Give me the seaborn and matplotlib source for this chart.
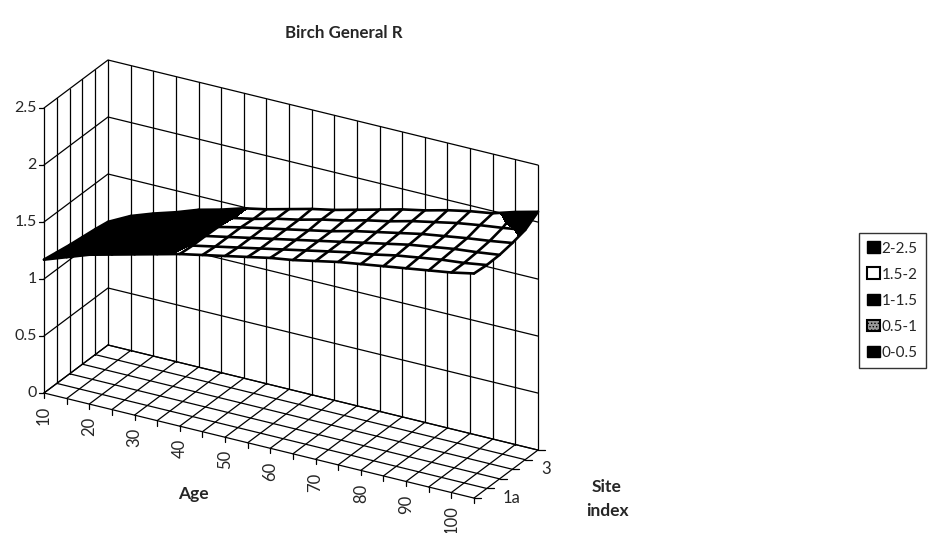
import numpy as np
import pandas as pd
import seaborn as sns
from matplotlib import pyplot as plt
from matplotlib.patches import Patch

ages = list(range(10, 110, 5))
age_labels = ['10', '', '20', '', '30', '', '40', '', '50', '', '60', '', '70', '', '80', '', '90', '', '100', '']
site_labels = ['1a', '', '', '3', '', '']
z_ticks = [0, 0.5, 1, 1.5, 2, 2.5]
z_labels = ['0', '0.5', '1', '1.5', '2', '2.5']

# one row per site index, one value per age
r_site0 = [1.17, 1.24, 1.31, 1.36, 1.41, 1.46, 1.51, 1.55, 1.59, 1.63, 1.67, 1.70, 1.74, 1.78, 1.81, 1.84, 1.87, 1.90, 1.93, 1.97]
r_site1 = [1.15, 1.22, 1.29, 1.35, 1.40, 1.45, 1.50, 1.54, 1.58, 1.62, 1.66, 1.70, 1.74, 1.78, 1.81, 1.85, 1.88, 1.91, 1.93, 1.96]
r_site2 = [1.13, 1.21, 1.28, 1.34, 1.39, 1.44, 1.50, 1.54, 1.58, 1.62, 1.66, 1.70, 1.74, 1.78, 1.82, 1.86, 1.89, 1.92, 1.94, 1.965]
r_site3 = [1.115, 1.20, 1.27, 1.33, 1.39, 1.44, 1.495, 1.54, 1.58, 1.62, 1.66, 1.70, 1.75, 1.79, 1.83, 1.87, 1.90, 1.93, 1.955, 1.985]
r_site4 = [1.10, 1.19, 1.26, 1.32, 1.38, 1.435, 1.49, 1.53, 1.58, 1.62, 1.67, 1.71, 1.76, 1.80, 1.85, 1.89, 1.93, 1.96, 1.985, 2.015]
r_site5 = [1.08, 1.18, 1.25, 1.31, 1.38, 1.43, 1.49, 1.53, 1.58, 1.63, 1.67, 1.72, 1.77, 1.82, 1.86, 1.91, 1.95, 1.98, 2.04, 2.09]

band_labels = ['2-2.5', '1.5-2', '1-1.5', '0.5-1', '0-0.5']
FONT = 'Lato'


def project(j, k, z):
    # oblique view: j = age step, k = site step, z = value, result in figure pixels
    x = 44 + 22.63 * np.asarray(j) + 12.8 * np.asarray(k)
    y = 393 + 5.53 * np.asarray(j) - 9.6 * np.asarray(k) - 114 * np.asarray(z)
    return x, y


def segments(lines):
    rows = []
    for n, line in enumerate(lines):
        for x, y in line:
            rows.append({'line': n, 'x': float(x), 'y': float(y)})
    return pd.DataFrame(rows)


def draw_lines(ax, lines, lw, zorder):
    sns.lineplot(data=segments(lines), x='x', y='y', units='line', estimator=None, sort=False,
                 color='black', lw=lw, legend=False, ax=ax, zorder=zorder)


def frame_lines():
    nj, nk = len(ages) - 1, len(site_labels) - 1
    top = z_ticks[-1]
    lines = []
    # back wall and left wall
    for j in range(nj + 1):
        lines.append([project(j, nk, 0), project(j, nk, top)])
    for k in range(nk):
        lines.append([project(0, k, 0), project(0, k, top)])
    for z in z_ticks:
        lines.append([project(0, 0, z), project(0, nk, z), project(nj, nk, z)])
        x, y = project(0, 0, z)
        lines.append([(x - 5, y), (x, y)])
    # floor
    for j in range(nj + 1):
        lines.append([project(j, 0, 0), project(j, nk, 0)])
        x, y = project(j, 0, 0)
        lines.append([(x, y), (x, y + 5)])
    for k in range(nk + 1):
        lines.append([project(0, k, 0), project(nj, k, 0)])
        x, y = project(nj, k, 0)
        lines.append([(x, y), (x + 7, y)])
    return lines


def plot_surface(ax):
    z = np.array([r_site0, r_site1, r_site2, r_site3, r_site4, r_site5])
    jj, kk = np.meshgrid(np.arange(len(ages)), np.arange(len(site_labels)))
    xs, ys = project(jj, kk, z)

    ax.contourf(xs, ys, z, levels=[0, 0.5, 1, 1.5, 2, 2.5],
                colors=['black', '#555555', 'black', 'white', 'black'], zorder=3)

    mesh = [list(zip(xs[k], ys[k])) for k in range(xs.shape[0])]
    mesh += [list(zip(xs[:, j], ys[:, j])) for j in range(xs.shape[1])]
    draw_lines(ax, mesh, 1.9, 4)


def plot_labels(ax):
    for z, label in zip(z_ticks, z_labels):
        x, y = project(0, 0, z)
        ax.text(x - 7, y, label, ha='right', va='center', fontsize=11.5, family=FONT)
    for j, label in enumerate(age_labels):
        x, y = project(j, 0, 0)
        ax.text(x, y + 13, label, ha='center', va='top', rotation=90, fontsize=12, family=FONT)
    for k, label in enumerate(site_labels):
        x, y = project(len(ages) - 1, k, 0)
        ax.text(x + 29, y, label, ha='left', va='center', fontsize=12, family=FONT)

    ax.text(344, 33, 'Birch General R', ha='center', va='center', fontsize=12.2, fontweight='bold', family=FONT)
    ax.text(193, 494, 'Age', ha='center', va='center', fontsize=12.5, fontweight='bold', family=FONT)
    ax.text(607, 487, 'Site', ha='center', va='center', fontsize=12.5, fontweight='bold', family=FONT)
    ax.text(607, 511, 'index', ha='center', va='center', fontsize=12.5, fontweight='bold', family=FONT)


def plot_legend(ax):
    handles = [
        Patch(facecolor='black', edgecolor='black', label=band_labels[0]),
        Patch(facecolor='white', edgecolor='black', lw=1.5, label=band_labels[1]),
        Patch(facecolor='black', edgecolor='black', label=band_labels[2]),
        Patch(facecolor='#999999', edgecolor='black', lw=1.5, hatch='.....', label=band_labels[3]),
        Patch(facecolor='black', edgecolor='black', label=band_labels[4]),
    ]
    leg = ax.legend(handles=handles, loc='upper left', bbox_to_anchor=(859 / 930, 1 - 233 / 533),
                    borderaxespad=0, frameon=True, fancybox=False, edgecolor='#333333', framealpha=1,
                    handlelength=0.8, handleheight=0.8, handletextpad=0.12, labelspacing=0.78,
                    borderpad=0.55, prop={'family': FONT, 'size': 11})
    leg.get_frame().set_linewidth(1.0)


def main():
    sns.set_theme(style='white')
    plt.rcParams['hatch.linewidth'] = 0.6

    fig = plt.figure(figsize=(9.3, 5.33), dpi=100)
    ax = fig.add_axes([0, 0, 1, 1])

    draw_lines(ax, frame_lines(), 0.9, 2)
    plot_surface(ax)
    plot_labels(ax)
    plot_legend(ax)

    ax.set_xlim(0, 930)
    ax.set_ylim(533, 0)
    ax.set_axis_off()

    fig.savefig('out.png', dpi=100)


if __name__ == '__main__':
    main()
